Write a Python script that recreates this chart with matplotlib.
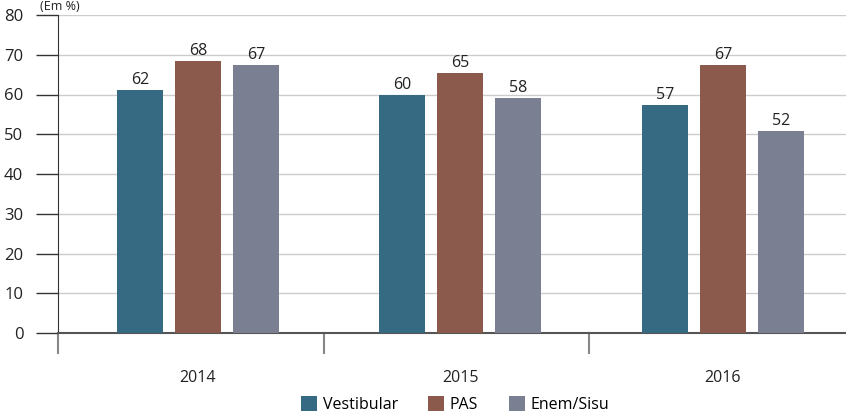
import numpy as np
import matplotlib.pyplot as plt

# dados
years = ["2014", "2015", "2016"]
series = ["Vestibular", "PAS", "Enem/Sisu"]
vestibular = [61.1, 60.0, 57.3]
pas = [68.5, 65.5, 67.3]
enem = [67.3, 59.0, 50.9]
vestibular_lbl = ["62", "60", "57"]
pas_lbl = ["68", "65", "67"]
enem_lbl = ["67", "58", "52"]
y_ticks = [0, 10, 20, 30, 40, 50, 60, 70, 80]

colors = ["#356a82", "#8b5a4c", "#7a7f91"]

plt.rcParams["font.family"] = ["Open Sans", "DejaVu Sans"]

fig = plt.figure(figsize=(8.46, 4.13), dpi=100)
ax = fig.add_axes([58 / 846, (413 - 333) / 413, (846 - 58) / 846, (333 - 15) / 413])

x = np.arange(len(years))
step = 0.221
width = 0.175
vals = [vestibular, pas, enem]
lbls = [vestibular_lbl, pas_lbl, enem_lbl]
for i, name in enumerate(series):
    pos = x + (i - 1) * step
    ax.bar(pos, vals[i], width=width, color=colors[i], label=name, zorder=3)
    for p, v, t in zip(pos, vals[i], lbls[i]):
        ax.text(p, v + 0.5, t, ha="center", va="bottom", fontsize=11.5, color="#222222")

xmin, xmax = -0.533, 2.469
ax.set_xlim(xmin, xmax)
ax.set_ylim(0, 80)
ax.set_yticks(y_ticks)
ax.set_yticklabels([str(t) for t in y_ticks], fontsize=12, color="#222222")
ax.tick_params(axis="y", length=16, width=1, color="#333333", pad=9)
ax.yaxis.grid(True, color="#cccccc", linewidth=1, zorder=0)

# separadores das categorias
ax.set_xticks([xmin, 0.48, 1.49], minor=True)
ax.set_xticks(x)
ax.set_xticklabels(years, fontsize=11.5, color="#222222")
ax.tick_params(axis="x", which="major", length=0, pad=27)
ax.tick_params(axis="x", which="minor", length=15, width=1.5, color="#888888")

for s in ["top", "right"]:
    ax.spines[s].set_visible(False)
ax.spines["left"].set_color("#333333")
ax.spines["bottom"].set_color("#555555")
ax.spines["bottom"].set_linewidth(1.5)

fig.text(40 / 846, 1.0 - 6 / 413, "(Em %)", fontsize=9, color="#222222", va="center", ha="left")

fig.legend(loc="lower center", bbox_to_anchor=(0.538, -0.035), ncol=3, frameon=False,
           fontsize=11.5, handlelength=1.0, handleheight=1.0, handletextpad=0.35,
           columnspacing=1.9)

fig.savefig("out.png", dpi=100)
